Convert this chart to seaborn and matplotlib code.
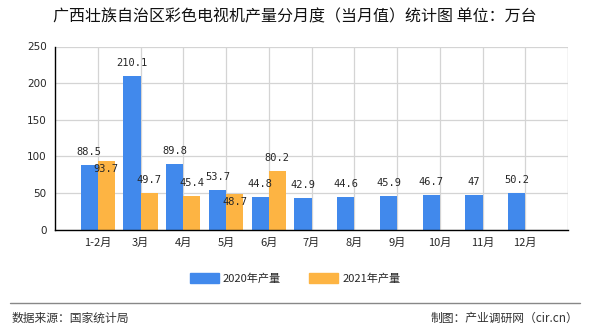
import matplotlib
matplotlib.use("Agg")
import matplotlib.pyplot as plt
import seaborn as sns
import pandas as pd

months = ["1-2月", "3月", "4月", "5月", "6月", "7月", "8月", "9月", "10月", "11月", "12月"]
vals_2020 = [88.5, 210.1, 89.8, 53.7, 44.8, 42.9, 44.6, 45.9, 46.7, 47, 50.2]
vals_2021 = [93.7, 49.7, 45.4, 48.7, 80.2]
series_names = ["2020年产量", "2021年产量"]
yticks = [0, 50, 100, 150, 200, 250]
title = "广西壮族自治区彩色电视机产量分月度（当月值）统计图 单位：万台"
source = "数据来源：国家统计局"
credit = "制图：产业调研网（cir.cn）"

# label placement style for 2021 series (above/below bar top)
pos_2021 = ["below", "above", "above", "below", "above"]

sns.set_style("white")
plt.rcParams["font.family"] = ["Noto Sans CJK SC", "DejaVu Sans"]

rows = [{"month": m, "value": v, "series": series_names[0]} for m, v in zip(months, vals_2020)]
rows += [{"month": m, "value": v, "series": series_names[1]} for m, v in zip(months, vals_2021)]
df = pd.DataFrame(rows)

colors = ["#4189ec", "#fdb443"]

fig = plt.figure(figsize=(5.9, 3.3), dpi=100)
ax = fig.add_axes([55 / 590, 1 - 229.5 / 330, (568 - 55) / 590, (229.5 - 46.5) / 330])

sns.barplot(data=df, x="month", y="value", hue="series", order=months,
            hue_order=series_names, palette=colors, saturation=1, width=0.8,
            linewidth=0, edgecolor="none", ax=ax, legend=False)

ax.set_xlim(-1, 11)
ax.set_ylim(0, 250)
ax.set_yticks(yticks)
ax.set_yticklabels([str(t) for t in yticks], fontsize=7.5, family="DejaVu Sans")
ax.set_xticks(list(range(12)))
ax.set_xticklabels(months + [""], fontsize=8)
ax.set_xlabel("")
ax.set_ylabel("")
ax.grid(True, color="#d4d4d4", linewidth=0.9)
ax.set_axisbelow(True)
for s in ["top", "right"]:
    ax.spines[s].set_visible(False)
for s in ["left", "bottom"]:
    ax.spines[s].set_color("black")
    ax.spines[s].set_linewidth(1)
ax.tick_params(axis="both", direction="out", length=4, width=1, color="black", pad=2)
ax.axvline(11, color="#d4d4d4", linewidth=0.9)

# value labels
for bar, v in zip(ax.containers[0], vals_2020):
    ax.annotate(f"{v:g}", (bar.get_x() + bar.get_width() / 2, bar.get_height()),
                xytext=(0, 9.5), textcoords="offset points", ha="center", va="center",
                fontsize=7.5, family="DejaVu Sans Mono")
for bar, v, p in zip(ax.containers[1], vals_2021, pos_2021):
    off = 9.5 if p == "above" else -6
    ax.annotate(f"{v:g}", (bar.get_x() + bar.get_width() / 2, bar.get_height()),
                xytext=(0, off), textcoords="offset points", ha="center", va="center",
                fontsize=7.5, family="DejaVu Sans Mono")

fig.text(0.5, 1 - 17 / 330, title, ha="center", va="center", fontsize=11.5, color="#111111")

handles = [plt.Rectangle((0, 0), 1, 1, color=c) for c in colors]
fig.legend(handles, series_names, loc="center", bbox_to_anchor=(0.5, 1 - 278 / 330),
           ncol=2, frameon=False, fontsize=8, handlelength=2.6, handleheight=1.0,
           columnspacing=2.5, handletextpad=0.4)

fig.add_artist(plt.Line2D([10 / 590, 580 / 590], [1 - 303 / 330, 1 - 303 / 330],
                          color="#888888", linewidth=1))
fig.text(12 / 590, 1 - 318 / 330, source, ha="left", va="center", fontsize=8.5, color="#333333")
fig.text(578 / 590, 1 - 318 / 330, credit, ha="right", va="center", fontsize=8.5, color="#333333")

fig.savefig("out.png", dpi=100)
